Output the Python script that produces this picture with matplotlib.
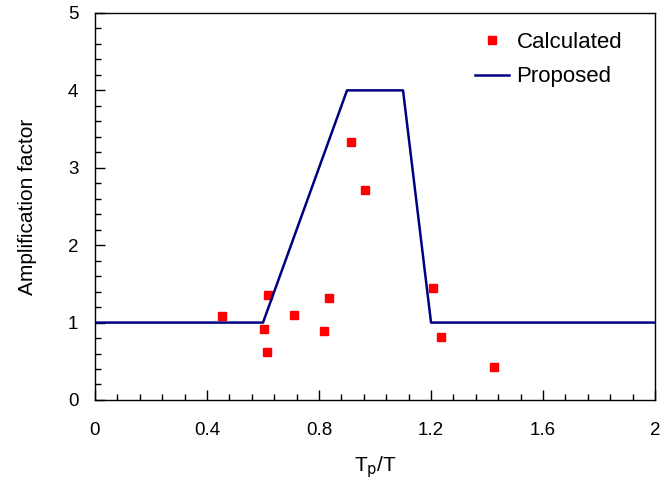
import matplotlib
matplotlib.use('Agg')
import matplotlib.pyplot as plt
from matplotlib.ticker import MultipleLocator

# proposed amplification curve
prop_x = [0, 0.6, 0.9, 1.1, 1.2, 2.0]
prop_y = [1, 1, 4, 4, 1, 1]

# calculated points
calc_x = [0.454, 0.617, 0.602, 0.616, 0.712, 0.836, 0.818, 1.207, 1.235, 0.914, 0.964, 1.425]
calc_y = [1.085, 1.35, 0.917, 0.62, 1.10, 1.318, 0.887, 1.443, 0.81, 3.33, 2.71, 0.426]

plt.rcParams['font.family'] = ['Liberation Sans', 'DejaVu Sans']

fig = plt.figure(figsize=(6.62, 4.84), dpi=100)
ax = fig.add_axes([0.1435, 0.1736, 0.846, 0.7996])

ax.plot(calc_x, calc_y, 's', color='#ff0000', markersize=6, linestyle='none', label='Calculated')
ax.plot(prop_x, prop_y, color='#000080', linewidth=1.8, label='Proposed')

ax.set_xlim(0, 2)
ax.set_ylim(0, 5)
ax.xaxis.set_major_locator(MultipleLocator(0.4))
ax.xaxis.set_minor_locator(MultipleLocator(0.08))
ax.yaxis.set_major_locator(MultipleLocator(1))
ax.yaxis.set_minor_locator(MultipleLocator(0.2))
ax.set_xticks([0, 0.4, 0.8, 1.2, 1.6, 2.0])
ax.set_xticklabels(['0', '0.4', '0.8', '1.2', '1.6', '2'])
ax.tick_params(which='both', direction='in', top=False, right=False, labelsize=13.5)
ax.tick_params(which='major', length=7, width=1)
ax.tick_params(which='minor', length=4, width=1)
ax.tick_params(axis='x', pad=16)
ax.tick_params(axis='y', pad=12)
for s in ax.spines.values():
    s.set_linewidth(1)

ax.set_xlabel(r'T$_\mathrm{p}$/T', fontsize=15, labelpad=11)
ax.set_ylabel('Amplification factor', fontsize=15, labelpad=22)

leg = ax.legend(loc='upper left', frameon=False, fontsize=16, bbox_to_anchor=(0.679, 0.952),
                borderaxespad=0, borderpad=0, handlelength=1.5, handletextpad=0.35,
                labelspacing=0.62, markerscale=0.9)

fig.savefig('out.png', dpi=100)
